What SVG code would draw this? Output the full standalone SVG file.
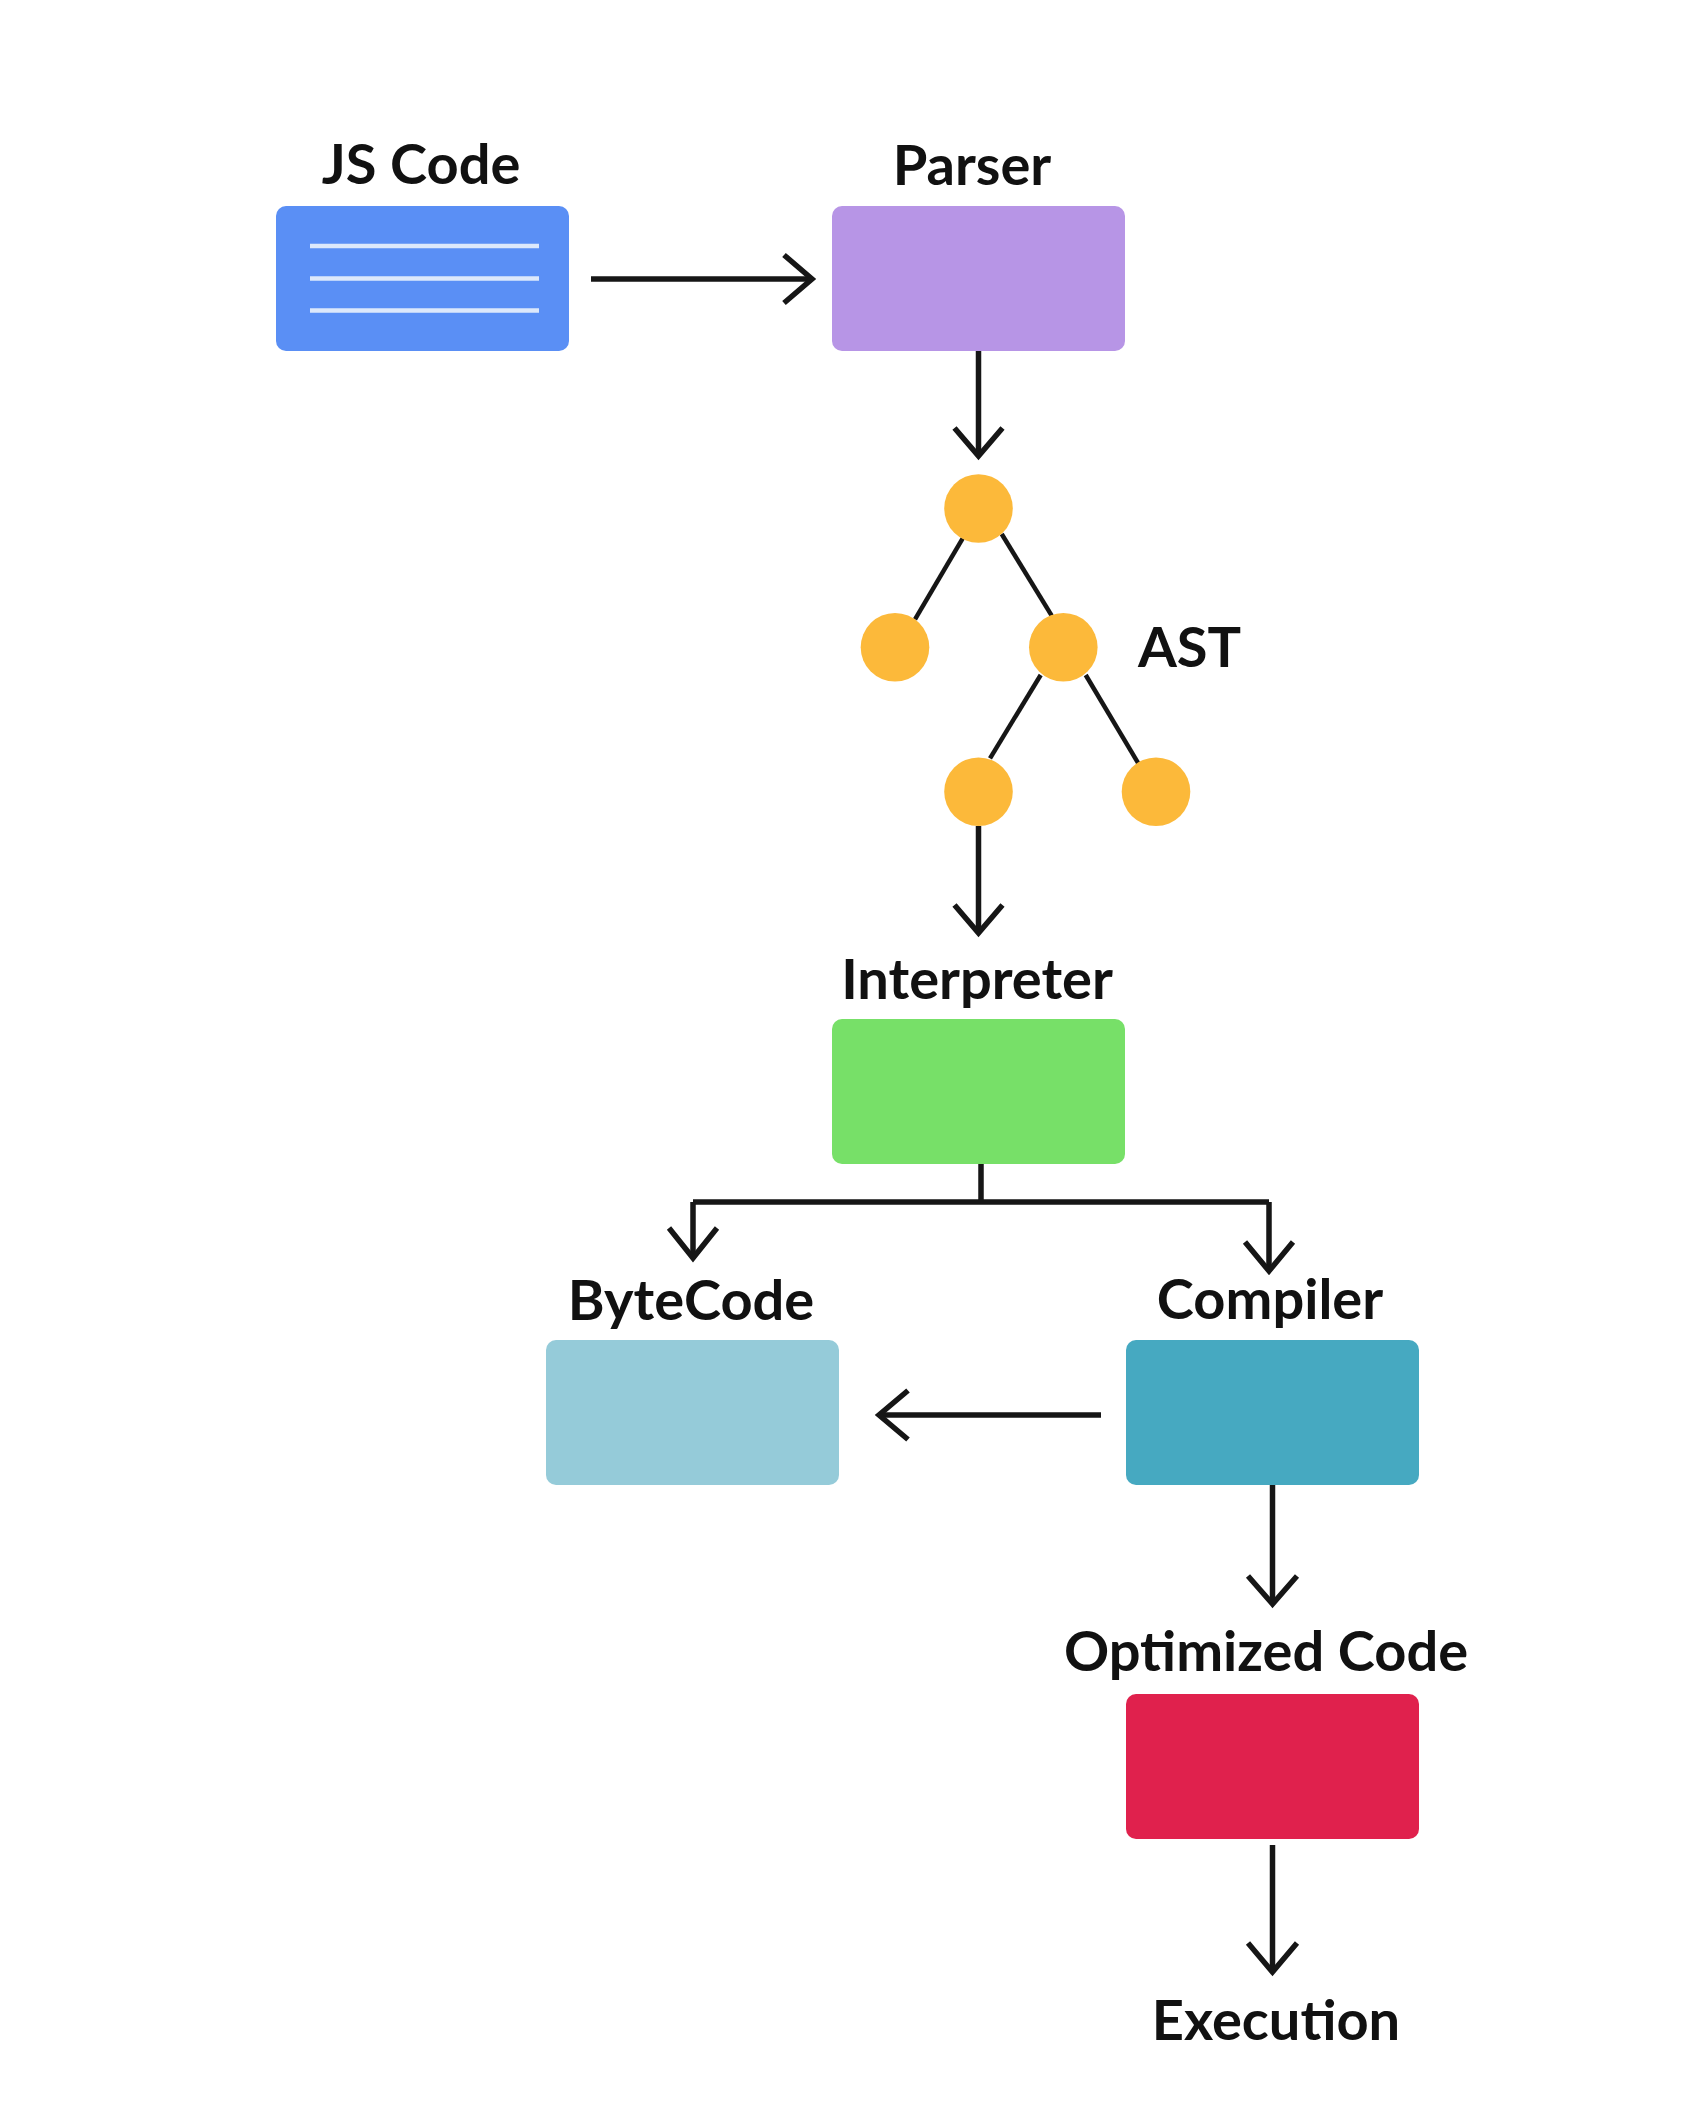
<svg xmlns="http://www.w3.org/2000/svg" width="1701" height="2103" viewBox="0 0 1701 2103">
<style>
.lbl{font-family:Lato,"Noto Sans","Liberation Sans",sans-serif;font-weight:700;font-size:56px;fill:#111;text-anchor:middle}
.box{stroke:none}
.conn{fill:none;stroke:#161616;stroke-width:5.5;stroke-linecap:butt;stroke-linejoin:miter}
.head{fill:none;stroke:#161616;stroke-width:5.5;stroke-linecap:butt;stroke-linejoin:miter}
.edge{stroke:#161616;stroke-width:4.5}
.astn{fill:#fcb93a}
</style>
<rect width="1701" height="2103" fill="#ffffff"/>

<g id="jscode">
<rect class="box" x="276" y="206" width="293" height="145" rx="10" fill="#5a8ff5"/>
<g stroke="#dce8fb" stroke-width="4.3">
<line x1="310" y1="246" x2="539" y2="246"/>
<line x1="310" y1="278.5" x2="539" y2="278.5"/>
<line x1="310" y1="310.5" x2="539" y2="310.5"/>
</g>
<text class="lbl" x="421" y="184">JS Code</text>
</g>

<g id="parser">
<rect class="box" x="832" y="206" width="293" height="145" rx="10" fill="#b795e6"/>
<text class="lbl" x="972" y="185">Parser</text>
</g>

<g id="ast">
<g class="edge">
<line x1="962.7" y1="538.3" x2="915" y2="619.3"/>
<line x1="1001.7" y1="534" x2="1051.7" y2="615.7"/>
<line x1="1040.7" y1="675" x2="990" y2="758.3"/>
<line x1="1085.7" y1="675" x2="1138.3" y2="763.3"/>
</g>
<circle class="astn" cx="978.5" cy="508.5" r="34.3"/>
<circle class="astn" cx="895" cy="647.3" r="34.3"/>
<circle class="astn" cx="1063.3" cy="647.3" r="34.3"/>
<circle class="astn" cx="978.5" cy="791.7" r="34.3"/>
<circle class="astn" cx="1156" cy="791.7" r="34.3"/>
<text class="lbl" x="1189.5" y="667">AST</text>
</g>

<g id="interpreter">
<rect class="box" x="832" y="1019" width="293" height="145" rx="10" fill="#77e068"/>
<text class="lbl" x="977" y="999">Interpreter</text>
</g>

<g id="bytecode">
<rect class="box" x="546" y="1340" width="293" height="145" rx="10" fill="#95cbd9"/>
<text class="lbl" x="691" y="1320">ByteCode</text>
</g>

<g id="compiler">
<rect class="box" x="1126" y="1340" width="293" height="145" rx="10" fill="#46a9c1"/>
<text class="lbl" x="1270" y="1319">Compiler</text>
</g>

<g id="optimized">
<rect class="box" x="1126" y="1694" width="293" height="145" rx="10" fill="#e0214d"/>
<text class="lbl" x="1266" y="1671">Optimized Code</text>
</g>

<g id="execution">
<text class="lbl" x="1276" y="2040">Execution</text>
</g>

<g id="connectors">
<path class="conn" d="M591 279 H812"/>
<path class="head" d="M784 255 L812 279 L784 303"/>

<path class="conn" d="M978.5 351 V456"/>
<path class="head" d="M954.5 428 L978.5 456 L1002.5 428"/>

<path class="conn" d="M978.5 826 V933"/>
<path class="head" d="M954.5 905 L978.5 933 L1002.5 905"/>

<path class="conn" d="M981 1164 V1202 M693 1202 H1269 M693 1202 V1258 M1269 1202 V1271"/>
<path class="head" d="M669 1228 L693 1258 L717 1228"/>
<path class="head" d="M1245 1242 L1269 1271 L1293 1242"/>

<path class="conn" d="M1101 1415 H879"/>
<path class="head" d="M908 1390.5 L879 1415 L908 1439.5"/>

<path class="conn" d="M1272.5 1485 V1604"/>
<path class="head" d="M1248 1576 L1272.5 1604 L1297 1576"/>

<path class="conn" d="M1272.5 1845 V1972"/>
<path class="head" d="M1248 1943 L1272.5 1972 L1297 1943"/>
</g>
</svg>
